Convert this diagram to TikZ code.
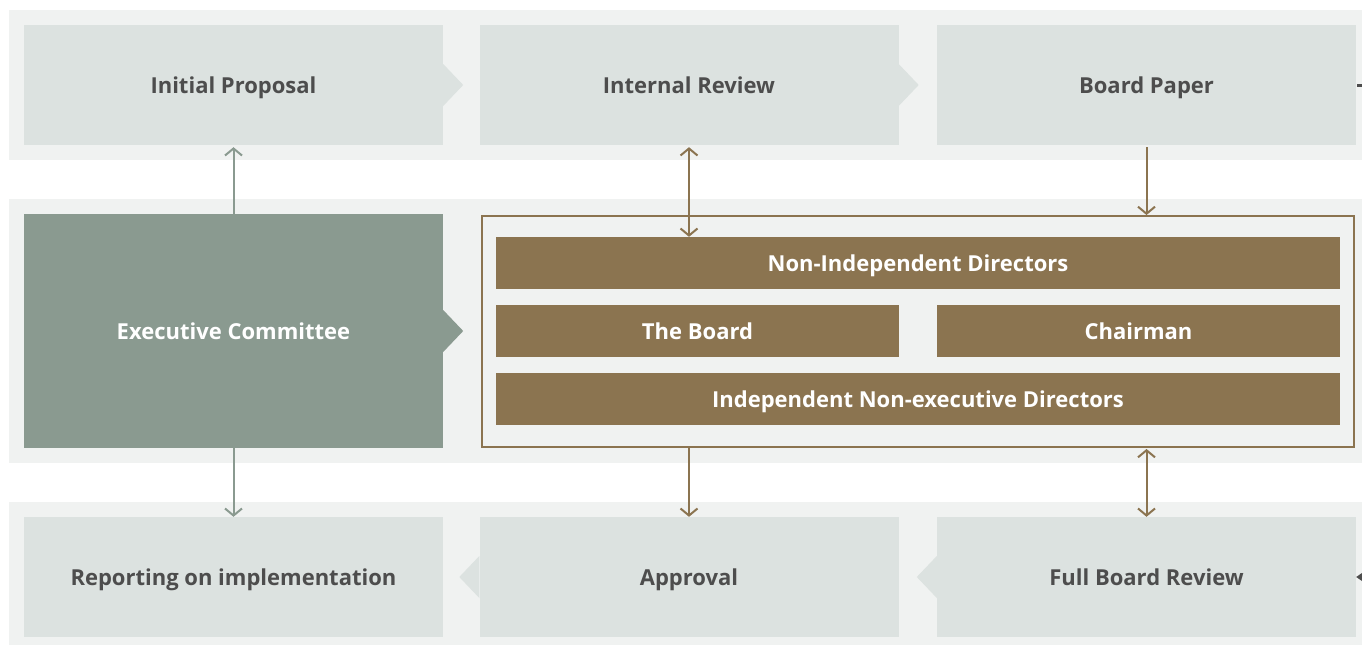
\documentclass[tikz,border=0pt]{standalone}
\usepackage{fontspec}
\setmainfont{Open Sans}
\usetikzlibrary{arrows.meta}
\definecolor{bandgrey}{HTML}{F0F2F1}
\definecolor{boxgrey}{HTML}{DCE2E0}
\definecolor{execgreen}{HTML}{8A9A90}
\definecolor{boardbrown}{HTML}{8B7450}
\definecolor{textgrey}{HTML}{4D4D4D}
\tikzset{
  >={Straight Barb[length=7pt,width=17pt]},
  labelfont/.style={font=\bfseries\fontsize{22}{26}\selectfont,
    text height=16pt, text depth=0pt},
  stagebox/.style={labelfont, fill=boxgrey, text=textgrey, inner sep=0pt,
    minimum width=419pt, minimum height=120pt},
  execbox/.style={labelfont, fill=execgreen, text=white, inner sep=0pt,
    minimum width=419pt, minimum height=234pt},
  dirbox/.style={labelfont, fill=boardbrown, text=white, inner sep=0pt,
    minimum height=52pt},
  greenlink/.style={draw=execgreen, line width=2pt},
  brownlink/.style={draw=boardbrown, line width=2pt},
}
\begin{document}
\begin{tikzpicture}[x=1pt,y=-1pt]
\useasboundingbox (0,0) rectangle (1362,645);
% bands
\fill[bandgrey] (9,10) rectangle (1362,160);
\fill[bandgrey] (9,199) rectangle (1362,463);
\fill[bandgrey] (9,502) rectangle (1362,645);

% top row
\node[stagebox] (prop) at (233.5,85) {Initial Proposal};
\node[stagebox] (review) at (689,85) {Internal Review};
\node[stagebox] (paper) at (1146.5,85) {Board Paper};
\fill[boxgrey] (prop.east) ++(0,-21) -- ++(20,21) -- ++(-20,21) -- cycle;
\fill[boxgrey] (review.east) ++(0,-21) -- ++(20,21) -- ++(-20,21) -- cycle;

% middle row
\node[execbox] (exec) at (233.5,331) {Executive Committee};
\fill[execgreen] (exec.east) ++(0,-21) -- ++(20,21) -- ++(-20,21) -- cycle;
\node[draw=boardbrown, line width=2pt, minimum width=872pt, minimum height=231pt] (board) at (918,331.5) {};
\node[dirbox, minimum width=844pt] (nonind) at (918,263) {Non-Independent Directors};
\node[dirbox, minimum width=403pt] (theboard) at (697.5,331) {The Board};
\node[dirbox, minimum width=403pt] (chair) at (1138.5,331) {Chairman};
\node[dirbox, minimum width=844pt] (indep) at (918,399) {Independent Non-executive Directors};

% bottom row
\node[stagebox] (report) at (233.5,577) {Reporting on implementation};
\node[stagebox] (approval) at (689,577) {Approval};
\node[stagebox] (full) at (1146.5,577) {Full Board Review};
\fill[boxgrey] (approval.west) ++(0,-21) -- ++(-20,21) -- ++(20,21) -- cycle;
\fill[boxgrey] (full.west) ++(0,-21) -- ++(-20,21) -- ++(20,21) -- cycle;

% links
\draw[greenlink,->] (exec.north) -- ([yshift=-2pt]prop.south);
\draw[greenlink,->] (exec.south) -- (report.north);
\draw[brownlink,<->] ([yshift=-2pt]review.south) -- (review.south |- nonind.north);
\draw[brownlink,->] ([yshift=-2pt]paper.south) -- (paper.south |- board.north);
\draw[brownlink,->] (board.south -| approval.north) -- (approval.north);
\draw[brownlink,<->] ([yshift=-1pt]board.south -| full.north) -- (full.north);

% stubs leaving the picture
\draw[textgrey, line width=3pt] ([xshift=1pt]paper.east) -- ++(12,0);
\draw[textgrey, line width=2pt, {Stealth[length=8pt,width=11pt]}-] (full.east) -- ++(14,0);
\end{tikzpicture}
\end{document}
